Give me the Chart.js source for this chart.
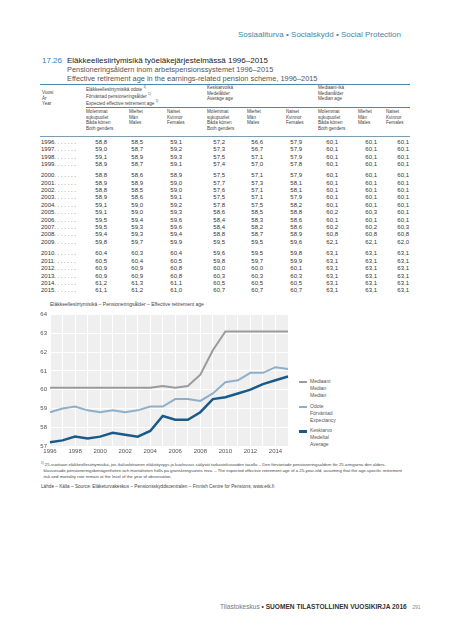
<!DOCTYPE html>
<html>
<head>
<meta charset="utf-8">
<script src="https://cdn.jsdelivr.net/npm/chart.js@4/dist/chart.umd.min.js"></script>
<style>
  html, body { margin: 0; padding: 0; background: #fff; }
  body { width: 450px; height: 640px; position: relative; overflow: hidden;
         font-family: "Liberation Sans", Arial, sans-serif; color: #333; }
  .t { position: absolute; white-space: nowrap; line-height: 1; }
  .rule { position: absolute; height: 1px; background: #4d87ad; }
  .small { font-size: 4.6px; color: #444; line-height: 5.6px; }
  .num { position: absolute; font-size: 6px; line-height: 6px; color: #333; text-align: right; width: 20px; }
  .yr { position: absolute; font-size: 6px; line-height: 6px; color: #333; left: 41px; }
  .sw { position: absolute; width: 8px; height: 2px; }
  .lg { position: absolute; font-size: 5px; line-height: 7px; color: #555; left: 310px; }
</style>
</head>
<body>

<div class="t" style="left:238px; top:31px; font-size:8px; color:#3f86a8;">Sosiaaliturva • Socialskydd • Social Protection</div>

<div class="t" style="left:42px; top:57px; font-size:8px; color:#3a7fb0;">17.26</div>
<div class="t" style="left:67px; top:57px; font-size:8px; color:#222;">Eläkkeellesiirtymisikä työeläkejärjestelmässä 1996–2015</div>
<div class="t" style="left:67px; top:66px; font-size:7.4px; color:#555;">Pensioneringsåldern inom arbetspensionssystemet 1996–2015</div>
<div class="t" style="left:67px; top:74.5px; font-size:7.4px; color:#555;">Effective retirement age in the earnings-related pension scheme, 1996–2015</div>

<div class="rule" style="left:40px; top:84px; width:370px;"></div>
<div class="rule" style="left:86px; top:107px; width:324px;"></div>
<div class="rule" style="left:40px; top:136px; width:370px; background:#7a9db5;"></div>

<div class="t small" style="left:42px; top:90px;">Vuosi<br>År<br>Year</div>
<div class="t small" style="left:86px; top:85px;">Eläkkeellesiirtymisikä odote <sup style="font-size:3px">1)</sup><br>Förväntad pensioneringsålder <sup style="font-size:3px">1)</sup><br>Expected effective retirement age <sup style="font-size:3px">1)</sup></div>
<div class="t small" style="left:207px; top:85px;">Keskiarvoikä<br>Medelålder<br>Average age</div>
<div class="t small" style="left:318px; top:85px;">Mediaani-ikä<br>Medianålder<br>Median age</div>

<div id="subheads"></div>
<div id="table"></div>

<div class="t" style="left:50px; top:301.5px; font-size:5px; color:#444;">Eläkkeellesiirtymisikä – Pensioneringsålder – Effective retirement age</div>

<div style="position:absolute; left:30px; top:308px; width:260px; height:150px;">
  <canvas id="chart" width="260" height="150"></canvas>
</div>

<div class="sw" style="left:299px; top:381px; background:#9b9b9b;"></div>
<div class="lg" style="top:378px;">Mediaani<br>Median<br>Median</div>
<div class="sw" style="left:299px; top:406px; background:#8fafc9;"></div>
<div class="lg" style="top:403px;">Odote<br>Förväntad<br>Expectancy</div>
<div class="sw" style="left:299px; top:430px; height:2.5px; background:#1a5a8a;"></div>
<div class="lg" style="top:427px;">Keskiarvo<br>Medeltal<br>Average</div>

<div class="t" style="left:41px; top:460px; font-size:4.3px; line-height:6px; color:#444;"><sup style="font-size:3px">1)</sup> 25-vuotiaan eläkkeellesiirtymisikä, jos ikäluokittainen eläköityvyys ja kuolevuus säilyvät tarkasteluvuoden tasolla – Den förväntade pensioneringsåldern för 25-åringarna den ålders-<br>&nbsp;&nbsp;klassvisade pensioneringsbenägenheten och mortaliteten hölls på granskningsårets nivå. – The expected effective retirement age of a 25-year-old, assuming that the age-specific retirement<br>&nbsp;&nbsp;risk and mortality rate remain at the level of the year of observation.</div>

<div class="t" style="left:41px; top:484.5px; font-size:4.7px; color:#444;">Lähde – Källa – Source: Eläketurvakeskus – Pensionsskyddscentralen – Finnish Centre for Pensions; www.etk.fi</div>

<div class="t" style="left:220px; top:603.5px; font-size:6.6px; color:#777;">Tilastokeskus <span style="color:#333">•</span> <b style="color:#333">SUOMEN TILASTOLLINEN VUOSIKIRJA 2016</b> &nbsp;&nbsp;<span style="font-size:5px; color:#888">291</span></div>

<script>
// vuodet ja sarjat (taulukko 17.26)
const years = ['1996','1997','1998','1999','2000','2001','2002','2003','2004','2005',
               '2006','2007','2008','2009','2010','2011','2012','2013','2014','2015'];

// odote / förväntad / expected
const expBoth  = [58.8,59.0,59.1,58.9,58.8,58.9,58.8,58.9,59.1,59.1,59.5,59.5,59.4,59.8,60.4,60.5,60.9,60.9,61.2,61.1];
const expMen   = [58.5,58.7,58.9,58.7,58.6,58.9,58.5,58.6,59.0,59.0,59.4,59.3,59.3,59.7,60.3,60.4,60.9,60.9,61.3,61.2];
const expWomen = [59.1,59.2,59.3,59.1,58.9,59.0,59.0,59.1,59.2,59.3,59.6,59.6,59.4,59.9,60.4,60.5,60.8,60.8,61.1,61.0];

// keskiarvo / medeltal / average
const avgBoth  = [57.2,57.3,57.5,57.4,57.5,57.7,57.6,57.5,57.8,58.6,58.4,58.4,58.8,59.5,59.6,59.8,60.0,60.3,60.5,60.7];
const avgMen   = [56.6,56.7,57.1,57.0,57.1,57.3,57.1,57.1,57.5,58.5,58.3,58.2,58.7,59.5,59.5,59.7,60.0,60.3,60.5,60.7];
const avgWomen = [57.9,57.9,57.9,57.8,57.9,58.1,58.1,57.9,58.2,58.8,58.6,58.6,58.9,59.6,59.8,59.9,60.1,60.3,60.5,60.7];

// mediaani / median
const medBoth  = [60.1,60.1,60.1,60.1,60.1,60.1,60.1,60.1,60.1,60.2,60.1,60.2,60.8,62.1,63.1,63.1,63.1,63.1,63.1,63.1];
const medMen   = [60.1,60.1,60.1,60.1,60.1,60.1,60.1,60.1,60.1,60.3,60.1,60.2,60.8,62.1,63.1,63.1,63.1,63.1,63.1,63.1];
const medWomen = [60.1,60.1,60.1,60.1,60.1,60.1,60.1,60.1,60.1,60.1,60.1,60.3,60.8,62.0,63.1,63.1,63.1,63.1,63.1,63.1];

const yTicks = [57, 58, 59, 60, 61, 62, 63, 64];

// --- taulukko ---
const subLabels = ['Molemmat<br>sukupuolet<br>Båda könen<br>Both genders', 'Miehet<br>Män<br>Males', 'Naiset<br>Kvinnor<br>Females'];
const subX = [86, 129, 167, 207, 247, 286, 318, 358, 386];
let sh = '';
subX.forEach((x, i) => {
  sh += '<div class="t small" style="left:' + x + 'px; top:109px;">' + subLabels[i % 3] + '</div>';
});
document.getElementById('subheads').innerHTML = sh;

const columns = [expBoth, expMen, expWomen, avgBoth, avgMen, avgWomen, medBoth, medMen, medWomen];
const colRight = [107, 143, 182, 225, 263, 302, 338, 377, 409];
let html = '';
years.forEach((y, i) => {
  // rivit ryhmitelty 1996-1999, 2000-2009, 2010-2015
  let top = 139 + i * 7.4;
  if (i >= 4) top += 3.5;
  if (i >= 14) top += 4.2;
  html += '<div class="yr" style="top:' + top + 'px;">' + y + '. . . . . . .</div>';
  columns.forEach((col, c) => {
    html += '<div class="num" style="left:' + (colRight[c] - 20) + 'px; top:' + top + 'px;">' +
            col[i].toFixed(1).replace('.', ',') + '</div>';
  });
});
document.getElementById('table').innerHTML = html;

// --- kuvio ---
const plotBackground = {
  id: 'plotBackground',
  beforeDraw(chart) {
    const { ctx, chartArea } = chart;
    ctx.save();
    ctx.fillStyle = '#efefef';
    ctx.fillRect(chartArea.left, chartArea.top, chartArea.width, chartArea.height);
    ctx.restore();
  }
};

const ctx = document.getElementById('chart').getContext('2d');
new Chart(ctx, {
  type: 'line',
  data: {
    labels: years,
    datasets: [
      { label: 'Mediaani', data: medBoth, borderColor: '#9b9b9b', borderWidth: 2 },
      { label: 'Odote', data: expBoth, borderColor: '#8fafc9', borderWidth: 2 },
      { label: 'Keskiarvo', data: avgBoth, borderColor: '#1a5a8a', borderWidth: 2.5 }
    ]
  },
  options: {
    responsive: false,
    devicePixelRatio: 1,
    animation: false,
    elements: { point: { radius: 0 }, line: { tension: 0 } },
    layout: { padding: { top: 4, right: 2, bottom: 0, left: 0 } },
    plugins: { legend: { display: false }, tooltip: { enabled: false } },
    scales: {
      x: {
        offset: false,
        grid: { color: '#ffffff', lineWidth: 1, drawTicks: false },
        border: { display: false },
        ticks: {
          autoSkip: false, maxRotation: 0, padding: 2,
          color: '#555', font: { size: 6, family: 'Liberation Sans' },
          callback: function(value) {
            const y = this.getLabelForValue(value);
            return Number(y) % 2 === 0 ? y : '';
          }
        },
        afterFit: function(scale) { scale.height = 12; }
      },
      y: {
        min: 57, max: 64,
        grid: { color: '#ffffff', lineWidth: 1, drawTicks: false },
        border: { display: false },
        afterBuildTicks: function(scale) { scale.ticks = yTicks.map(v => ({ value: v })); },
        ticks: { padding: 3, color: '#555', font: { size: 6, family: 'Liberation Sans' } },
        afterFit: function(scale) { scale.width = 20; }
      }
    }
  },
  plugins: [plotBackground]
});
</script>
</body>
</html>
